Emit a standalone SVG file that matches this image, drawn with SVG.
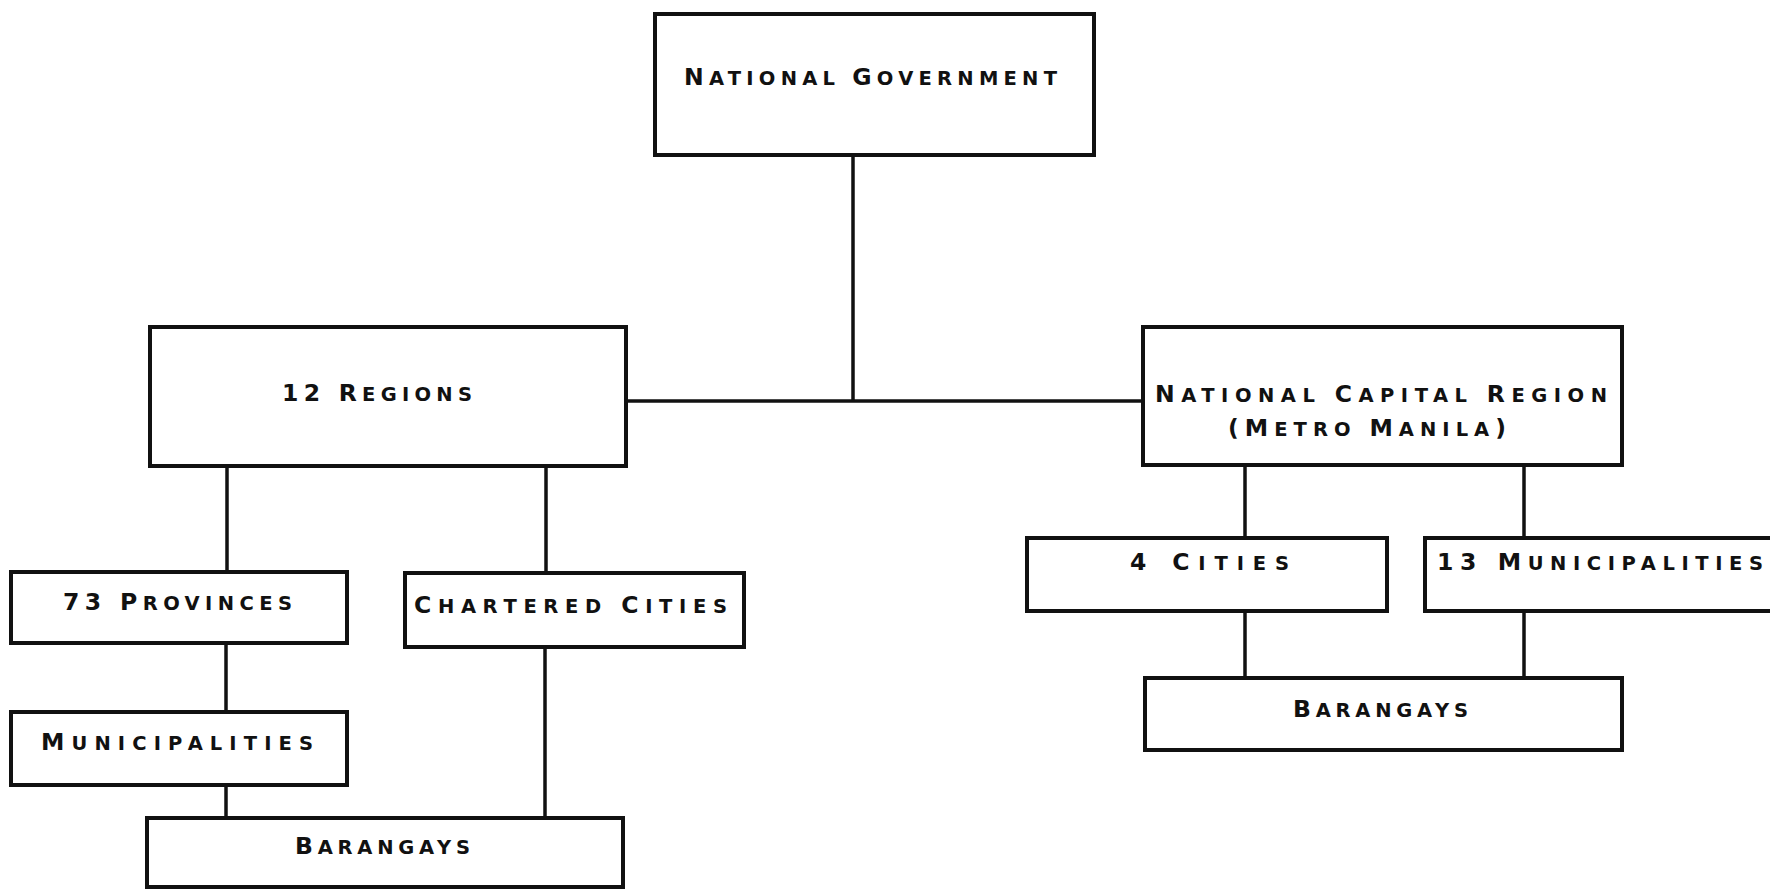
<svg xmlns="http://www.w3.org/2000/svg" width="1770" height="891" viewBox="0 0 1770 891">
<style>
.box{fill:#fff;stroke:#111;stroke-width:4}
.con{stroke:#111;stroke-width:3.5;fill:none}
.t{font-family:"DejaVu Sans","Liberation Sans",sans-serif;font-weight:bold;font-size:19.5px;fill:#111}
.c{font-size:23.5px}
</style>
<rect width="1770" height="891" fill="#fff"/>
<g id="connectors">
<line class="con" x1="853" y1="155" x2="853" y2="401"/>
<line class="con" x1="626" y1="401" x2="1143" y2="401"/>
<line class="con" x1="227" y1="466" x2="227" y2="572"/>
<line class="con" x1="546" y1="466" x2="546" y2="573"/>
<line class="con" x1="226" y1="643" x2="226" y2="712"/>
<line class="con" x1="226" y1="785" x2="226" y2="818"/>
<line class="con" x1="545" y1="647" x2="545" y2="818"/>
<line class="con" x1="1245" y1="465" x2="1245" y2="538"/>
<line class="con" x1="1524" y1="465" x2="1524" y2="538"/>
<line class="con" x1="1245" y1="611" x2="1245" y2="678"/>
<line class="con" x1="1524" y1="611" x2="1524" y2="678"/>
</g>
<g id="national-government">
<rect class="box" x="655" y="14" width="439" height="141"/>
<text class="t" x="684" y="85" textLength="373" lengthAdjust="spacing"><tspan class="c">N</tspan>ATIONAL <tspan class="c">G</tspan>OVERNMENT</text>
</g>
<g id="regions">
<rect class="box" x="150" y="327" width="476" height="139"/>
<text class="t" x="282" y="401" textLength="190" lengthAdjust="spacing"><tspan class="c">12 R</tspan>EGIONS</text>
</g>
<g id="ncr">
<rect class="box" x="1143" y="327" width="479" height="138"/>
<text class="t" x="1155" y="402" textLength="452" lengthAdjust="spacing"><tspan class="c">N</tspan>ATIONAL <tspan class="c">C</tspan>APITAL <tspan class="c">R</tspan>EGION</text>
<text class="t" x="1228" y="436" textLength="278" lengthAdjust="spacing"><tspan class="c">(M</tspan>ETRO <tspan class="c">M</tspan>ANILA<tspan class="c">)</tspan></text>
</g>
<g id="provinces">
<rect class="box" x="11" y="572" width="336" height="71"/>
<text class="t" x="63" y="610" textLength="229" lengthAdjust="spacing"><tspan class="c">73 P</tspan>ROVINCES</text>
</g>
<g id="chartered-cities">
<rect class="box" x="405" y="573" width="339" height="74"/>
<text class="t" x="414" y="613" textLength="313" lengthAdjust="spacing"><tspan class="c">C</tspan>HARTERED <tspan class="c">C</tspan>ITIES</text>
</g>
<g id="municipalities">
<rect class="box" x="11" y="712" width="336" height="73"/>
<text class="t" x="41" y="750" textLength="272" lengthAdjust="spacing"><tspan class="c">M</tspan>UNICIPALITIES</text>
</g>
<g id="barangays-left">
<rect class="box" x="147" y="818" width="476" height="69"/>
<text class="t" x="295" y="854" textLength="175" lengthAdjust="spacing"><tspan class="c">B</tspan>ARANGAYS</text>
</g>
<g id="cities-4">
<rect class="box" x="1027" y="538" width="360" height="73"/>
<text class="t" x="1130" y="570" textLength="159" lengthAdjust="spacing"><tspan class="c">4 C</tspan>ITIES</text>
</g>
<g id="municipalities-13">
<rect class="box" x="1425" y="538" width="370" height="73"/>
<text class="t" x="1437" y="570" textLength="326" lengthAdjust="spacing"><tspan class="c">13 M</tspan>UNICIPALITIES</text>
</g>
<g id="barangays-right">
<rect class="box" x="1145" y="678" width="477" height="72"/>
<text class="t" x="1293" y="717" textLength="175" lengthAdjust="spacing"><tspan class="c">B</tspan>ARANGAYS</text>
</g>
</svg>
